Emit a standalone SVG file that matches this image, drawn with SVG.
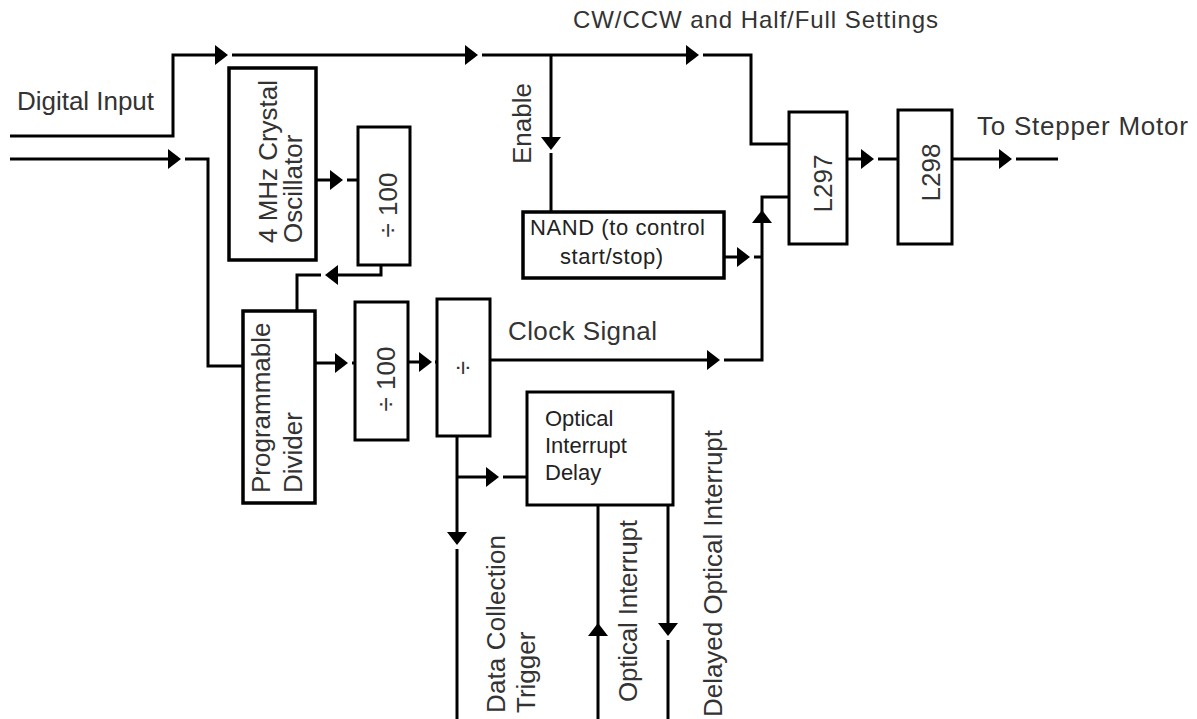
<svg xmlns="http://www.w3.org/2000/svg" width="1197" height="719" viewBox="0 0 1197 719">
<style>
.box{fill:#fff;stroke:#000;stroke-width:3}
.bx{fill:#fff;stroke:#000;stroke-width:3.5}
.ln{fill:none;stroke:#000;stroke-width:3;stroke-linejoin:miter}
.t{font-family:"Liberation Sans",Arial,sans-serif;font-size:26px;fill:#333}
.s{font-family:"Liberation Sans",Arial,sans-serif;font-size:22px;fill:#222}
.m{text-anchor:middle}
</style>
<defs>
<path id="ar" d="M0,0 L-13,-10 L-13,10 Z" fill="#000"/>
</defs>
<rect width="1197" height="719" fill="#fff"/>
<g id="connectors">
<polyline class="ln" points="10,136 173,136 173,55 216,55"/>
<use href="#ar" transform="translate(228,55)"/>
<line class="ln" x1="232" y1="55" x2="466" y2="55"/>
<use href="#ar" transform="translate(478,55)"/>
<line class="ln" x1="482" y1="55" x2="687" y2="55"/>
<use href="#ar" transform="translate(699,55)"/>
<polyline class="ln" points="703,55 751,55 751,144 790,144"/>
<line class="ln" x1="551" y1="55" x2="551" y2="138"/>
<use href="#ar" transform="translate(551,150) rotate(90)"/>
<line class="ln" x1="551" y1="153" x2="551" y2="212"/>
<line class="ln" x1="10" y1="159" x2="169" y2="159"/>
<use href="#ar" transform="translate(181,159)"/>
<polyline class="ln" points="185,159 208,159 208,366 243,366"/>
<line class="ln" x1="316" y1="180" x2="331" y2="180"/>
<use href="#ar" transform="translate(343,180)"/>
<line class="ln" x1="347" y1="180" x2="358" y2="180"/>
<polyline class="ln" points="381,265 381,275 337,275"/>
<use href="#ar" transform="translate(325,275) rotate(180)"/>
<polyline class="ln" points="321,275 297,275 297,311"/>
<line class="ln" x1="315" y1="363" x2="336" y2="363"/>
<use href="#ar" transform="translate(348,363)"/>
<line class="ln" x1="352" y1="363" x2="355" y2="363"/>
<line class="ln" x1="408" y1="362" x2="420" y2="362"/>
<use href="#ar" transform="translate(432,362)"/>
<line class="ln" x1="435" y1="362" x2="437" y2="362"/>
<line class="ln" x1="490" y1="360" x2="708" y2="360"/>
<use href="#ar" transform="translate(720,360)"/>
<polyline class="ln" points="724,360 762,360 762,222"/>
<use href="#ar" transform="translate(762,210) rotate(-90)"/>
<polyline class="ln" points="762,212 762,197 790,197"/>
<line class="ln" x1="724" y1="257" x2="738" y2="257"/>
<use href="#ar" transform="translate(750,257)"/>
<line class="ln" x1="754" y1="257" x2="762" y2="257"/>
<line class="ln" x1="847" y1="159" x2="862" y2="159"/>
<use href="#ar" transform="translate(874,159)"/>
<line class="ln" x1="878" y1="159" x2="898" y2="159"/>
<line class="ln" x1="952" y1="159" x2="1000" y2="159"/>
<use href="#ar" transform="translate(1012,159)"/>
<line class="ln" x1="1016" y1="159" x2="1058" y2="159"/>
<line class="ln" x1="457" y1="436" x2="457" y2="533"/>
<use href="#ar" transform="translate(457,545) rotate(90)"/>
<line class="ln" x1="457" y1="549" x2="457" y2="719"/>
<line class="ln" x1="457" y1="477" x2="487" y2="477"/>
<use href="#ar" transform="translate(499,477)"/>
<line class="ln" x1="503" y1="477" x2="527" y2="477"/>
<line class="ln" x1="598" y1="719" x2="598" y2="505"/>
<use href="#ar" transform="translate(598,623) rotate(-90)"/>
<line class="ln" x1="668" y1="505" x2="668" y2="624"/>
<use href="#ar" transform="translate(668,636) rotate(90)"/>
<line class="ln" x1="668" y1="640" x2="668" y2="719"/>
</g>
<g id="osc">
<rect class="bx" x="229" y="68" width="87" height="192"/>
<text class="t" transform="translate(277,243) rotate(-90)" textLength="163">4 MHz Crystal</text>
<text class="t" transform="translate(302,243) rotate(-90)">Oscillator</text>
</g>
<g id="div100a">
<rect class="box" x="358" y="127" width="52" height="138"/>
<text class="t m" transform="translate(397,205) rotate(-90)">÷ 100</text>
</g>
<g id="progdiv">
<rect class="bx" x="243" y="311" width="72" height="192"/>
<text class="t" transform="translate(270,493) rotate(-90)">Programmable</text>
<text class="t" transform="translate(302,493) rotate(-90)">Divider</text>
</g>
<g id="div100b">
<rect class="box" x="355" y="302" width="53" height="138"/>
<text class="t m" transform="translate(395,379) rotate(-90)">÷ 100</text>
</g>
<g id="divx">
<rect class="box" x="437" y="299" width="53" height="137"/>
<text class="t m" style="font-size:25px" transform="translate(472,368) rotate(-90)">÷</text>
</g>
<g id="nand">
<rect class="bx" x="523" y="212" width="201" height="66"/>
<text class="s" x="530" y="235" textLength="175">NAND (to control</text>
<text class="s" x="560" y="264" textLength="103">start/stop)</text>
</g>
<g id="l297">
<rect class="box" x="789" y="112" width="58" height="132"/>
<text class="t m" transform="translate(832,183.5) rotate(-90)">L297</text>
</g>
<g id="l298">
<rect class="box" x="898" y="110" width="54" height="134"/>
<text class="t m" transform="translate(940,172.5) rotate(-90)">L298</text>
</g>
<g id="oid">
<rect class="box" x="527" y="392" width="146" height="113"/>
<text class="s" x="545" y="426">Optical</text>
<text class="s" x="545" y="453">Interrupt</text>
<text class="s" x="545" y="480">Delay</text>
</g>
<g id="labels">
<text class="t" x="17" y="110" textLength="137">Digital Input</text>
<text class="t" x="573" y="28" style="font-size:24px" textLength="365">CW/CCW and Half/Full Settings</text>
<text class="t" x="977" y="135" textLength="211">To Stepper Motor</text>
<text class="t" x="508" y="340" textLength="149">Clock Signal</text>
<text class="t m" transform="translate(531,123.5) rotate(-90)">Enable</text>
<text class="t" transform="translate(505,713) rotate(-90)" textLength="178">Data Collection</text>
<text class="t" transform="translate(535,713) rotate(-90)">Trigger</text>
<text class="t" transform="translate(637,702) rotate(-90)" textLength="182">Optical Interrupt</text>
<text class="t" transform="translate(722,717) rotate(-90)" textLength="287">Delayed Optical Interrupt</text>
</g>
</svg>
